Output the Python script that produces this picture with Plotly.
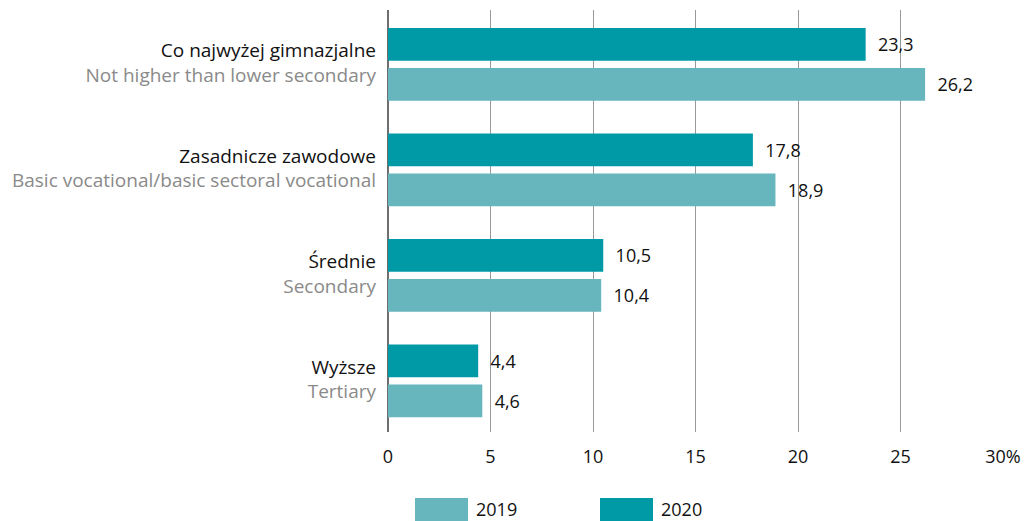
import plotly.graph_objects as go

categories_pl = ["Co najwyżej gimnazjalne", "Zasadnicze zawodowe", "Średnie", "Wyższe"]
categories_en = ["Not higher than lower secondary", "Basic vocational/basic sectoral vocational",
                 "Secondary", "Tertiary"]
values_2020 = [23.3, 17.8, 10.5, 4.4]
values_2019 = [26.2, 18.9, 10.4, 4.6]
tick_vals = [0, 5, 10, 15, 20, 25, 30]
tick_text = ["0", "5", "10", "15", "20", "25", "30%"]

COL_2020 = "#009aa6"
COL_2019 = "#67b5bd"
FONT = "Open Sans"

labels = [f"<span style='color:#111'>{p}</span><br><span style='color:#8a8a8a'>{e}</span>"
          for p, e in zip(categories_pl, categories_en)]

def fmt(v):
    return "  " + f"{v:.1f}".replace(".", ",")

fig = go.Figure()
fig.add_trace(go.Bar(y=labels, x=values_2020, orientation="h", name="2020",
                     width=0.31, offset=-0.33,
                     marker=dict(color=COL_2020, line=dict(width=0)),
                     text=[fmt(v) for v in values_2020], textposition="outside",
                     textfont=dict(size=18, color="#111", family=FONT), cliponaxis=False))
fig.add_trace(go.Bar(y=labels, x=values_2019, orientation="h", name="2019",
                     width=0.31, offset=0.05,
                     marker=dict(color=COL_2019, line=dict(width=0)),
                     text=[fmt(v) for v in values_2019], textposition="outside",
                     textfont=dict(size=18, color="#111", family=FONT), cliponaxis=False))

# page body has an 8px margin, so the figure is placed at (8, 8)
OFF = 8
W, H = 1034 - OFF, 521 - OFF
L, R, T, B = 388 - OFF, 31, 10 - OFF, 89
fig.update_layout(
    width=W, height=H,
    margin=dict(l=L, r=R, t=T, b=B, autoexpand=False),
    paper_bgcolor="white", plot_bgcolor="white",
    barmode="overlay",
    showlegend=False,
    font=dict(family=FONT, size=18, color="#111"),
    xaxis=dict(range=[0, 30], tickvals=tick_vals, ticktext=tick_text,
               showgrid=True, gridcolor="#999999", gridwidth=1,
               zeroline=True, zerolinecolor="#6e6e6e", zerolinewidth=2,
               showline=False, ticks="", ticklabelstandoff=12,
               tickfont=dict(size=18, color="#111")),
    yaxis=dict(autorange="reversed", showgrid=False, zeroline=False, showline=False,
               ticks="", ticklabelstandoff=11, tickfont=dict(size=19)),
)

# custom legend (page-pixel positions converted to paper coordinates)
pw, ph = W - L - R, H - T - B
def px(x):
    return (x - OFF - L) / pw
def py(y):
    return (H - B - (y - OFF)) / ph

legend_items = [("2019", COL_2019, 415), ("2020", COL_2020, 600)]
for name, col, x0 in legend_items:
    fig.add_shape(type="rect", xref="paper", yref="paper",
                  x0=px(x0), x1=px(x0 + 53), y0=py(521), y1=py(498),
                  fillcolor=col, line=dict(width=0))
    fig.add_annotation(xref="paper", yref="paper", x=px(x0 + 60), y=py(509),
                       text=name, showarrow=False, xanchor="left", yanchor="middle",
                       borderpad=0, font=dict(size=18, color="#111", family=FONT))

fig.write_html("out.html")
